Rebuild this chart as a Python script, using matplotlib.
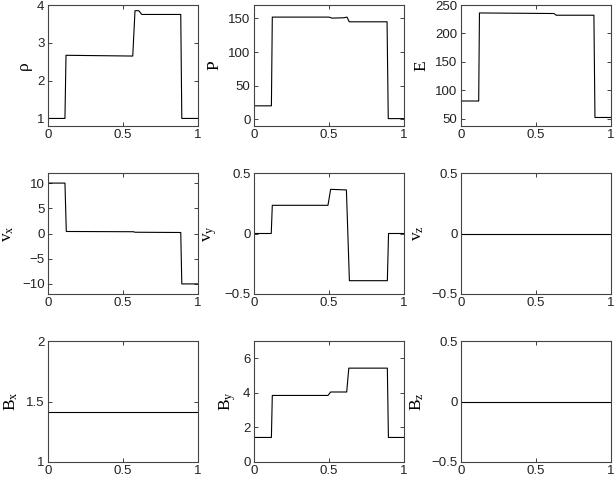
import numpy as np
import matplotlib.pyplot as plt
from matplotlib.ticker import FuncFormatter

plt.rcParams['font.family'] = 'Liberation Sans'
plt.rcParams['mathtext.fontset'] = 'custom'
plt.rcParams['mathtext.rm'] = 'Liberation Serif'
plt.rcParams['mathtext.it'] = 'Liberation Serif:italic'

# breakpoints (x) and values, one list pair per panel
rho_x = [0, 0.113, 0.12, 0.565, 0.58, 0.605, 0.625, 0.885, 0.892, 1]
rho_y = [1, 1, 2.67, 2.65, 3.85, 3.85, 3.75, 3.75, 1, 1]

p_x = [0, 0.116, 0.122, 0.5, 0.52, 0.6, 0.62, 0.635, 0.887, 0.895, 1]
p_y = [20, 20, 152, 152, 150.5, 151, 152, 145, 145, 1, 1]

e_x = [0, 0.118, 0.123, 0.62, 0.635, 0.886, 0.893, 1]
e_y = [81, 81, 236, 235, 232, 232, 52, 52]

vx_x = [0, 0.113, 0.122, 0.57, 0.58, 0.885, 0.892, 1]
vx_y = [10, 10, 0.4, 0.35, 0.25, 0.2, -10, -10]

vy_x = [0, 0.115, 0.122, 0.493, 0.511, 0.616, 0.636, 0.889, 0.897, 1]
vy_y = [0, 0, 0.233, 0.233, 0.365, 0.36, -0.39, -0.39, 0, 0]

vz_x = [0, 1]
vz_y = [0, 0]

bx_x = [0, 1]
bx_y = [1.414, 1.414]

by_x = [0, 0.116, 0.122, 0.493, 0.511, 0.618, 0.632, 0.889, 0.896, 1]
by_y = [1.42, 1.42, 3.85, 3.85, 4.05, 4.05, 5.43, 5.43, 1.42, 1.42]

bz_x = [0, 1]
bz_y = [0, 0]

panels = [
    (rho_x, rho_y, 'ρ', (0.8, 4), [1, 2, 3, 4]),
    (p_x, p_y, 'P', (-10, 170), [0, 50, 100, 150]),
    (e_x, e_y, 'E', (37, 250), [50, 100, 150, 200, 250]),
    (vx_x, vx_y, r'$\mathrm{v}_{\mathrm{x}}$', (-12, 12), [-10, -5, 0, 5, 10]),
    (vy_x, vy_y, r'$\mathrm{v}_{\mathrm{y}}$', (-0.5, 0.5), [-0.5, 0, 0.5]),
    (vz_x, vz_y, r'$\mathrm{v}_{\mathrm{z}}$', (-0.5, 0.5), [-0.5, 0, 0.5]),
    (bx_x, bx_y, r'$\mathrm{B}_{\mathrm{x}}$', (1, 2), [1, 1.5, 2]),
    (by_x, by_y, r'$\mathrm{B}_{\mathrm{y}}$', (0, 7), [0, 2, 4, 6]),
    (bz_x, bz_y, r'$\mathrm{B}_{\mathrm{z}}$', (-0.5, 0.5), [-0.5, 0, 0.5]),
]

W, H = 614, 479
lefts = [48, 254, 461]
width = 150
tops = [5, 173, 341]
height = 121

fmt = FuncFormatter(lambda v, pos: ('%g' % v).replace('-', '\u2212'))

fig = plt.figure(figsize=(W / 100, H / 100), dpi=100)

for i, (xs, ys, lab, ylim, yt) in enumerate(panels):
    r, c = divmod(i, 3)
    ax = fig.add_axes([lefts[c] / W, 1 - (tops[r] + height) / H, width / W, height / H])
    ax.plot(xs, ys, color='black', lw=0.8)
    ax.set_xlim(0, 1)
    ax.set_ylim(*ylim)
    ax.set_xticks([0, 0.5, 1])
    ax.set_yticks(yt)
    ax.xaxis.set_major_formatter(fmt)
    ax.yaxis.set_major_formatter(fmt)
    ax.tick_params(direction='in', top=True, right=True, length=3, width=0.6,
                   labelsize=9.5, colors='#222222', pad=2.5)
    for s in ax.spines.values():
        s.set_linewidth(0.8)
        s.set_color('#444444')
    ax.set_ylabel(lab, fontsize=12.5, labelpad=4, family='Liberation Serif')

fig.savefig('out.png', dpi=100)
